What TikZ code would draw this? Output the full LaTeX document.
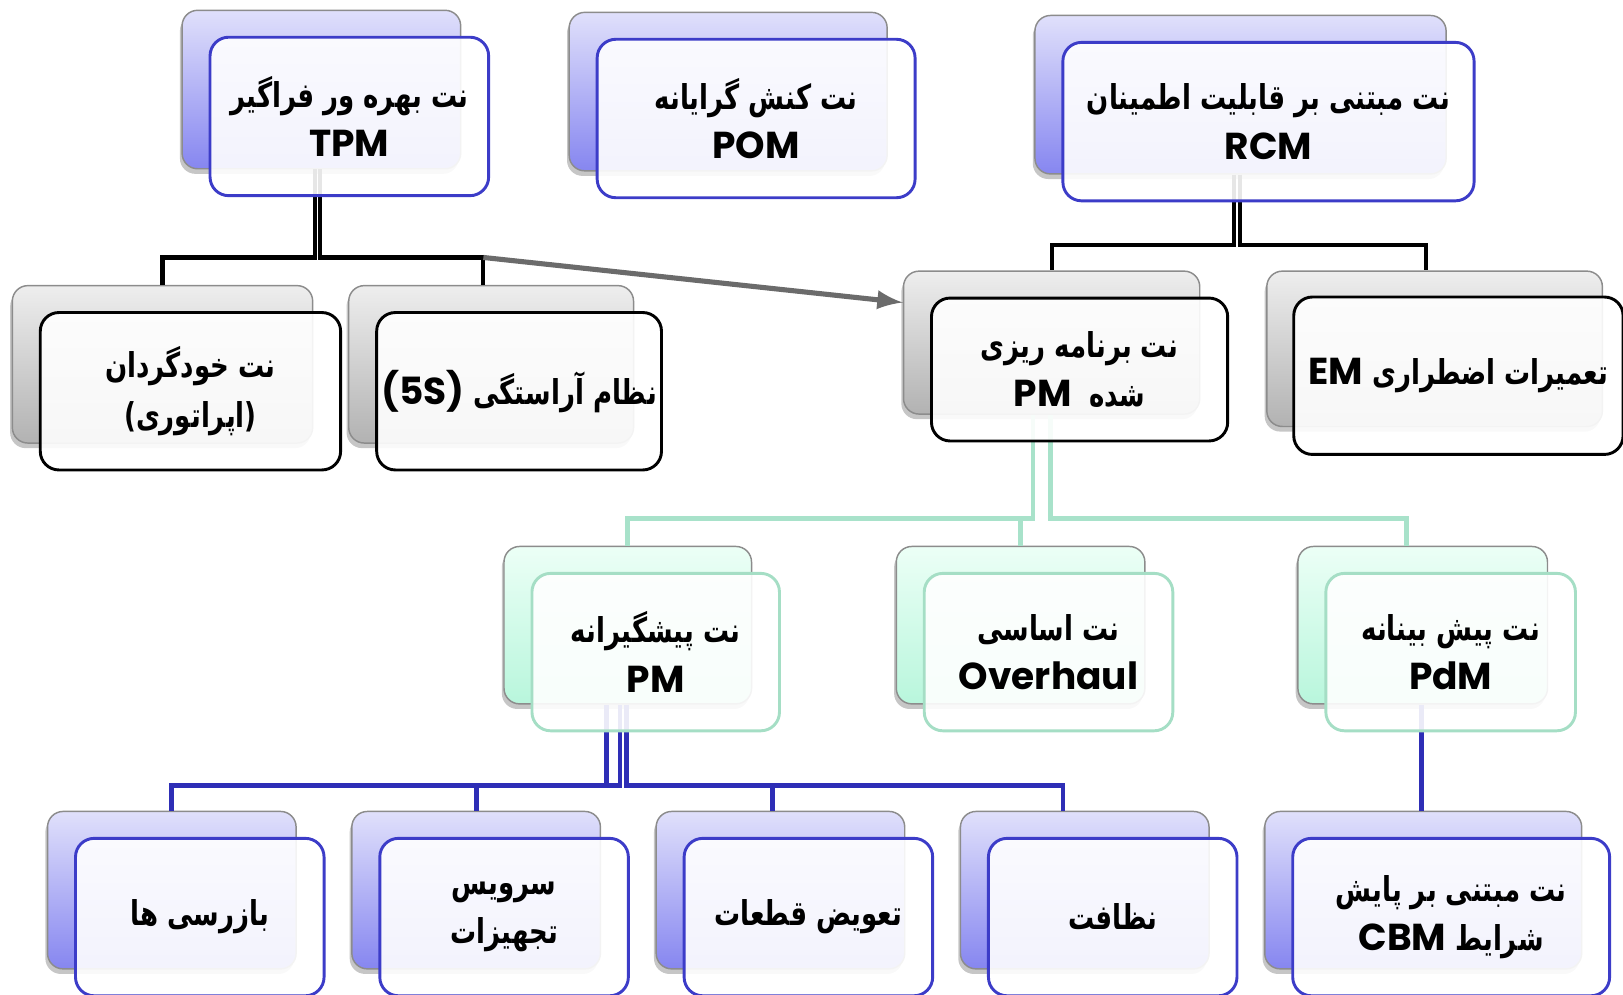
\documentclass[tikz,border=0pt]{standalone}
\usepackage{fontspec}
\newfontfamily\fa[Script=Arabic, FakeStretch=0.76]{DejaVu Sans}
\newfontfamily\lat{Poppins}
\TeXXeTstate=1
\usetikzlibrary{shadows}
\usetikzlibrary{calc}

\definecolor{blueTop}{RGB}{224,224,251}
\definecolor{blueBot}{RGB}{134,134,240}
\definecolor{grayTop}{RGB}{238,238,238}
\definecolor{grayBot}{RGB}{178,178,178}
\definecolor{mintTop}{RGB}{236,255,246}
\definecolor{mintBot}{RGB}{184,246,220}
\definecolor{blueEdge}{RGB}{60,60,200}
\definecolor{mintEdge}{RGB}{165,222,197}
\definecolor{blueLine}{RGB}{46,46,182}
\definecolor{mintLine}{RGB}{168,226,202}

\tikzset{
	back/.style={rounded corners=0.15cm, draw=black!45, line width=0.4pt, inner sep=0pt,
		drop shadow={shadow xshift=-0.6pt, shadow yshift=-1.4pt, opacity=0.45}},
	backblue/.style={back, top color=blueTop, bottom color=blueBot},
	backgray/.style={back, top color=grayTop, bottom color=grayBot},
	backmint/.style={back, top color=mintTop, bottom color=mintBot},
	front/.style={rounded corners=0.18cm, line width=0.8pt, fill=white, fill opacity=0.9,
		text opacity=1, inner sep=0pt, align=center, font=\fa\bfseries\fontsize{9.4}{13.6}\selectfont},
	frontblue/.style={front, draw=blueEdge},
	frontgray/.style={front, draw=black},
	frontmint/.style={front, draw=mintEdge},
	blk/.style={draw=black, line width=1.15pt},
	bln/.style={draw=blueLine, line width=1.35pt},
	mnt/.style={draw=mintLine, line width=1.35pt},
	arr/.style={draw=black!58, line width=1.4pt, -latex}
}

\begin{document}
\begin{tikzpicture}[x=0.01cm, y=-0.01cm]
	\useasboundingbox (0,0) rectangle (1568,961);

	\node [backblue, minimum width=2.69cm, minimum height=1.53cm] (tpmB) at (310.5,86.5) {};
	\node [backblue, minimum width=3.07cm, minimum height=1.53cm] (pomB) at (703.5,88.5) {};
	\node [backblue, minimum width=3.97cm, minimum height=1.53cm] (rcmB) at (1198.5,91.5) {};
	\node [backgray, minimum width=2.90cm, minimum height=1.52cm] (autoB) at (157,352) {};
	\node [backgray, minimum width=2.75cm, minimum height=1.52cm] (fivesB) at (474.5,352) {};
	\node [backgray, minimum width=2.86cm, minimum height=1.38cm] (planB) at (1016,331) {};
	\node [backgray, minimum width=3.24cm, minimum height=1.50cm] (emB) at (1386,337) {};
	\node [backmint, minimum width=2.39cm, minimum height=1.52cm] (pmB) at (606.5,604) {};
	\node [backmint, minimum width=2.40cm, minimum height=1.52cm] (ovhB) at (986,604) {};
	\node [backmint, minimum width=2.41cm, minimum height=1.52cm] (pdmB) at (1374.5,604) {};
	\node [backblue, minimum width=2.40cm, minimum height=1.52cm] (inspB) at (166,860) {};
	\node [backblue, minimum width=2.40cm, minimum height=1.52cm] (servB) at (460,860) {};
	\node [backblue, minimum width=2.40cm, minimum height=1.52cm] (partB) at (754,860) {};
	\node [backblue, minimum width=2.40cm, minimum height=1.52cm] (cleanB) at (1048,860) {};
	\node [backblue, minimum width=3.06cm, minimum height=1.52cm] (cbmB) at (1375,860) {};

	\draw [blk] ($(tpmB.south)+(-6.5,0)$) -- ++(0,85) -| (autoB.north);
	\draw [blk] ($(tpmB.south)+(-1.5,0)$) -- ++(0,85) -| coordinate [pos=0.5] (tpmR) ($(fivesB.north)+(-7.5,0)$);
	\draw [arr] (tpmR) -- ($(planB.north west)+(0,31)$);
	\draw [blk] ($(rcmB.south)+(-6.5,0)$) -- ++(0,68) -| (planB.north);
	\draw [blk] ($(rcmB.south)+(-0.5,0)$) -- ++(0,68) -| ($(emB.north)+(-8,0)$);
	\draw [mnt] ($(planB.south)+(-18,0)$) -- ++(0,100) -| (pmB.north);
	\draw [mnt] ($(planB.south)+(-18,0)$) -- ++(0,100) -| (ovhB.north);
	\draw [mnt] ($(planB.south)+(-1,0)$) -- ++(0,100) -| ($(pdmB.north)+(-16,0)$);
	\draw [bln] ($(pmB.south)+(-20.5,0)$) -- ++(0,78) -| (inspB.north);
	\draw [bln] ($(pmB.south)+(-7.5,0)$) -- ++(0,78) -| (servB.north);
	\draw [bln] ($(pmB.south)+(-1.5,0)$) -- ++(0,78) -| ($(partB.north)+(-8,0)$);
	\draw [bln] ($(pmB.south)+(-1.5,0)$) -- ++(0,78) -| ($(cleanB.north)+(-21,0)$);
	\draw [bln] ($(pdmB.south)+(-1.5,0)$) -- ($(cbmB.north)+(-2,0)$);

	\node [frontblue, minimum width=2.69cm, minimum height=1.53cm] (tpm) at (337.5,112.5)
		{\beginR نت بهره ور فراگیر\endR\\{\lat\bfseries\fontsize{10.3}{13.6}\selectfont TPM}};
	\node [frontblue, minimum width=3.07cm, minimum height=1.53cm] (pom) at (730.5,114.5)
		{\beginR نت کنش گرایانه\endR\\{\lat\bfseries\fontsize{10.3}{13.6}\selectfont POM}};
	\node [frontblue, minimum width=3.97cm, minimum height=1.53cm] (rcm) at (1225.5,117.5)
		{\beginR نت مبتنی بر قابلیت اطمینان\endR\\{\lat\bfseries\fontsize{10.3}{13.6}\selectfont RCM}};
	\node [frontgray, minimum width=2.90cm, minimum height=1.52cm] (auto) at (184,378)
		{\beginR نت خودگردان\endR\\\beginR (اپراتوری)\endR};
	\node [frontgray, minimum width=2.75cm, minimum height=1.52cm] (fives) at (501.5,378)
		{\beginR نظام آراستگی \beginL{\lat\fontsize{10.3}{13.6}\selectfont(}{\lat\bfseries\fontsize{10.3}{13.6}\selectfont 5S}{\lat\fontsize{10.3}{13.6}\selectfont)}\endL\endR};
	\node [frontgray, minimum width=2.86cm, minimum height=1.38cm] (plan) at (1043,357)
		{\beginR نت برنامه ریزی\endR\\\beginR شده\ \ \beginL{\lat\bfseries\fontsize{10.3}{13.6}\selectfont PM}\endL\endR};
	\node [frontgray, minimum width=3.18cm, minimum height=1.52cm] (em) at (1409,363)
		{\beginR تعمیرات اضطراری \beginL{\lat\bfseries\fontsize{10.3}{13.6}\selectfont EM}\endL\endR};
	\node [frontmint, minimum width=2.39cm, minimum height=1.52cm] (pm) at (633.5,630)
		{\beginR نت پیشگیرانه\endR\\{\lat\bfseries\fontsize{10.3}{13.6}\selectfont PM}};
	\node [frontmint, minimum width=2.40cm, minimum height=1.52cm] (ovh) at (1013,630)
		{\beginR نت اساسی\endR\\{\lat\bfseries\fontsize{10.3}{13.6}\selectfont Overhaul}};
	\node [frontmint, minimum width=2.41cm, minimum height=1.52cm] (pdm) at (1401.5,630)
		{\beginR نت پیش بینانه\endR\\{\lat\bfseries\fontsize{10.3}{13.6}\selectfont PdM}};
	\node [frontblue, minimum width=2.40cm, minimum height=1.52cm] (insp) at (193,886)
		{\beginR بازرسی ها\endR};
	\node [frontblue, minimum width=2.40cm, minimum height=1.52cm] (serv) at (487,886)
		{\beginR سرویس\endR\\\beginR تجهیزات\endR};
	\node [frontblue, minimum width=2.40cm, minimum height=1.52cm] (part) at (781,886)
		{\beginR تعویض قطعات\endR};
	\node [frontblue, minimum width=2.40cm, minimum height=1.52cm] (clean) at (1075,886)
		{\beginR نظافت\endR};
	\node [frontblue, minimum width=3.06cm, minimum height=1.52cm] (cbm) at (1402,886)
		{\beginR نت مبتنی بر پایش\endR\\\beginR شرایط \beginL{\lat\bfseries\fontsize{10.3}{13.6}\selectfont CBM}\endL\endR};
\end{tikzpicture}
\end{document}
